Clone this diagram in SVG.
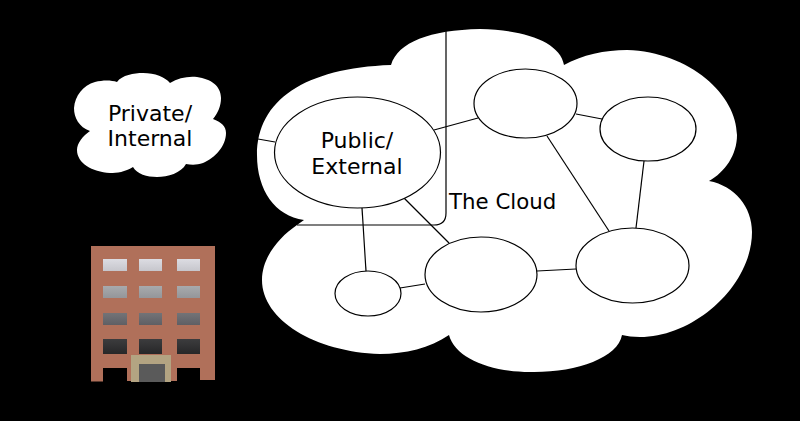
<svg xmlns="http://www.w3.org/2000/svg" width="800" height="421" viewBox="0 0 800 421">
<style>
.cloud{fill:#fff}
.net{fill:#fff;stroke:#000;stroke-width:1.2}
.link{fill:none;stroke:#000;stroke-width:1.2}
text{font-family:"DejaVu Sans",sans-serif;font-size:22px;fill:#000}
.c{text-anchor:middle}
.wall{fill:#b0705a}
.hole{fill:#000}
</style>
<defs>
<linearGradient id="w1" x1="0" y1="0" x2="0" y2="1"><stop offset="0" stop-color="#dcdce2"/><stop offset="1" stop-color="#c6c6cc"/></linearGradient>
<linearGradient id="w2" x1="0" y1="0" x2="0" y2="1"><stop offset="0" stop-color="#a8aaad"/><stop offset="1" stop-color="#94969a"/></linearGradient>
<linearGradient id="w3" x1="0" y1="0" x2="0" y2="1"><stop offset="0" stop-color="#737377"/><stop offset="1" stop-color="#5f5f64"/></linearGradient>
<linearGradient id="w4" x1="0" y1="0" x2="0" y2="1"><stop offset="0" stop-color="#3c3c3e"/><stop offset="1" stop-color="#272728"/></linearGradient>
</defs>
<rect width="800" height="421" fill="#000"/>
<g id="private-cloud">
<path class="cloud" d="M117 82C122 75 134 73 143 73C155 73 165 77 170 83C178 78 188 76 197 77C211 79 221 86 221 98C221 106 218 113 213 119C221 122 226 126 226 133C226 146 215 158 203 163C197 165 192 165 186 164C181 173 168 177 157 177C147 177 137 174 133 167C125 172 117 173 110 173C92 172 77 163 77 150C77 143 83 136 90 131C79 127 74 118 74 108C75 96 83 85 95 82C103 80 111 80 117 82Z"/>
<text class="c" x="150" y="121">Private/</text>
<text class="c" x="150" y="146">Internal</text>
</g>
<g id="building">
<path class="wall" d="M91 246H215V380H200V368H177V381H127V368H103V381.500H91Z"/>
<rect x="103" y="259" width="24" height="12" fill="url(#w1)"/>
<rect x="139" y="259" width="23" height="12" fill="url(#w1)"/>
<rect x="177" y="259" width="23" height="12" fill="url(#w1)"/>
<rect x="103" y="286" width="24" height="12" fill="url(#w2)"/>
<rect x="139" y="286" width="23" height="12" fill="url(#w2)"/>
<rect x="177" y="286" width="23" height="12" fill="url(#w2)"/>
<rect x="103" y="313" width="24" height="12" fill="url(#w3)"/>
<rect x="139" y="313" width="23" height="12" fill="url(#w3)"/>
<rect x="177" y="313" width="23" height="12" fill="url(#w3)"/>
<rect x="103" y="339" width="24" height="15" fill="url(#w4)"/>
<rect x="139" y="339" width="23" height="15" fill="url(#w4)"/>
<rect x="177" y="339" width="23" height="15" fill="url(#w4)"/>
<rect x="131" y="355" width="40" height="27" fill="#b3a482"/>
<rect x="139" y="364" width="26" height="18" fill="#5a5a5a"/>
</g>
<g id="the-cloud">
<path class="cloud" d="M391 65C398 42 430 30 480 29C525 30 560 42 564 65C582 55 605 50 627 50C690 52 737 95 737 135C737 155 725 172 709 181C735 186 752 207 752 232C752 285 695 337 640 337C633 337 627 336 622 335C618 358 575 373 530 372C490 372 455 358 449 335C430 348 405 354 380 354C315 352 262 320 262 280C262 258 278 238 297 225L304 220C275 216 257 190 257 155C257 100 305 68 391 65Z"/>
</g>
<g id="connectors">
<path class="link" d="M297 225H434Q446 225 446 213V30"/>
<path class="link" d="M258 139L275 142"/>
<path class="link" d="M434 130L478 118"/>
<path class="link" d="M576 114L602 119"/>
<path class="link" d="M547 136L609 231"/>
<path class="link" d="M644 161L636 228"/>
<path class="link" d="M537 271L576 269"/>
<path class="link" d="M400 288L425 284"/>
<path class="link" d="M362 208L366 271"/>
<path class="link" d="M404 198L449 243"/>
</g>
<g id="public"><ellipse class="net" cx="357.500" cy="152.500" rx="83" ry="55.500"/>
<text class="c" x="357" y="148">Public/</text>
<text class="c" x="357" y="174">External</text></g>
<g id="node-top"><ellipse class="net" cx="525.500" cy="103.500" rx="51.500" ry="34.500"/></g>
<g id="node-right"><ellipse class="net" cx="648" cy="129" rx="48" ry="32"/></g>
<g id="node-lower-right"><ellipse class="net" cx="632.500" cy="265.500" rx="56.500" ry="37.500"/></g>
<g id="node-center"><ellipse class="net" cx="481" cy="274.500" rx="56" ry="37.500"/></g>
<g id="node-small"><ellipse class="net" cx="368" cy="293.500" rx="33" ry="22.500"/></g>
<text id="cloud-label" x="449" y="209" style="font-size:21.3px">The Cloud</text>
</svg>
